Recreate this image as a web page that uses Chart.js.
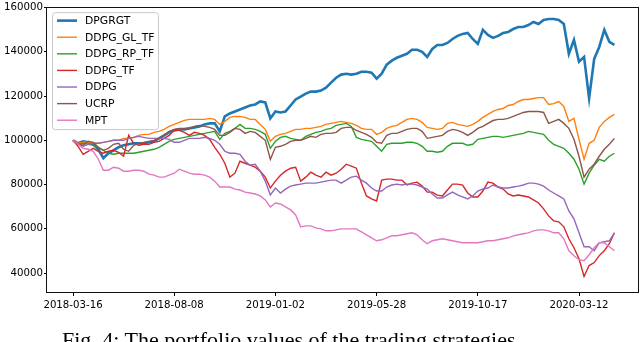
<!DOCTYPE html>
<html>
<head>
<meta charset="utf-8">
<script src="https://cdn.jsdelivr.net/npm/chart.js@4.4.0/dist/chart.umd.min.js"></script>
<style>
html, body { margin: 0; padding: 0; background: #fff; overflow: hidden; }
#wrap { position: relative; width: 640px; height: 342px; overflow: hidden; }
#caption { position: absolute; left: 62px; top: 327px; font-family: "Liberation Serif", serif; font-size: 22px; white-space: nowrap; color: #000; }
</style>
</head>
<body>
<div id="wrap">
  <canvas id="portfolioChart" width="640" height="342"></canvas>
  <div id="caption">Fig. 4: The portfolio values of the trading strategies</div>
</div>
<script>
// trading day index of each sample (every 5th trading day from 2018-03-16)
const days = [
  0, 5, 10, 15, 20, 25, 30, 35, 40, 45, 50, 55, 60, 65, 70, 75, 80, 85, 90, 95,
  100, 105, 110, 115, 120, 125, 130, 135, 140, 145, 150, 155, 160, 165, 170, 175, 180, 185, 190, 195,
  200, 205, 210, 215, 220, 225, 230, 235, 240, 245, 250, 255, 260, 265, 270, 275, 280, 285, 290, 295,
  300, 305, 310, 315, 320, 325, 330, 335, 340, 345, 350, 355, 360, 365, 370, 375, 380, 385, 390, 395,
  400, 405, 410, 415, 420, 425, 430, 435, 440, 445, 450, 455, 460, 465, 470, 475, 480, 485, 490, 495,
  500, 505, 510, 515, 520, 525, 530, 535
];

// tick positions (trading day index) and their date labels
const tickDays = [0, 100, 200, 300, 400, 500];
const tickLabels = ['2018-03-16', '2018-08-08', '2019-01-02', '2019-05-28', '2019-10-17', '2020-03-12'];
const yTicks = [40000, 60000, 80000, 100000, 120000, 140000, 160000];

const seriesNames = ['DPGRGT', 'DDPG_GL_TF', 'DDPG_RP_TF', 'DDPG_TF', 'DDPG', 'UCRP', 'MPT'];

// portfolio values
const dpgrgt = [
  100000, 98650, 99550, 99100, 98200, 95950, 91900, 94150, 95500, 96850,
  97750, 98200, 98650, 98650, 98650, 99100, 99550, 100900, 102250, 103600,
  104500, 104950, 104950, 105400, 105850, 106300, 107200, 107650, 107650, 104050,
  110800, 112150, 113050, 113950, 114850, 115750, 116200, 117550, 117100, 109900,
  113050, 112600, 113050, 115750, 118450, 119800, 121100, 122000, 122000, 122500,
  123800, 126100, 128300, 129700, 130100, 129700, 130100, 131000, 131000, 130600,
  127900, 130100, 134200, 136000, 137300, 138200, 139100, 140900, 140900, 140000,
  137700, 141300, 143100, 143100, 144000, 145800, 147200, 148100, 148500, 145800,
  143600, 149900, 147600, 146300, 147200, 148500, 149000, 150300, 151200, 151200,
  152100, 153500, 152600, 154400, 154800, 154800, 154400, 152600, 139100, 145400,
  135500, 137700, 119000, 136800, 142200, 149900, 144500, 143100
];
const ddpgGlTf = [
  100000, 98650, 99100, 99100, 98650, 98650, 99100, 99550, 100000, 100000,
  100900, 100900, 101350, 102250, 102700, 102700, 103600, 104050, 104950, 106300,
  107200, 108100, 109000, 109450, 109450, 109450, 109450, 109900, 109450, 107200,
  108550, 110350, 110800, 110800, 110350, 109450, 109450, 107200, 104950, 99550,
  101800, 102700, 103150, 104050, 104950, 104950, 105400, 105400, 105850, 106300,
  107200, 107650, 108100, 108550, 108100, 107650, 106750, 105400, 104950, 104950,
  102700, 103600, 105400, 106300, 106750, 108100, 109450, 109900, 109450, 108100,
  105850, 105400, 104950, 105400, 107650, 108100, 107200, 106750, 106300, 107200,
  108550, 110350, 111700, 113050, 113950, 114400, 115750, 116200, 117550, 118450,
  118450, 118900, 119300, 119300, 116200, 116600, 117550, 115300, 108550, 109900,
  100450, 91450, 98650, 100000, 105850, 108550, 110350, 111700
];
const ddpgRpTf = [
  100000, 98200, 98650, 98200, 97750, 96850, 95500, 94150, 93700, 94150,
  94150, 94150, 94150, 94600, 95050, 95500, 95950, 96850, 98200, 99550,
  100450, 100900, 101350, 101800, 102250, 102700, 103150, 103600, 104050, 100450,
  103150, 104050, 105400, 107200, 105400, 105400, 104950, 104050, 102700, 96400,
  99550, 101350, 101800, 100900, 100450, 100000, 101800, 102700, 103600, 104050,
  104950, 105400, 106750, 107200, 107650, 106300, 101350, 100450, 100000, 99550,
  97300, 95050, 98200, 98650, 98650, 98650, 99100, 99100, 98650, 97300,
  95050, 95050, 94600, 95050, 97300, 98650, 98650, 98650, 97750, 98200,
  100450, 100900, 101350, 101800, 101800, 101350, 101800, 102250, 102700, 103150,
  104050, 103600, 103150, 102700, 100000, 98200, 97300, 96400, 94150, 91450,
  86950, 80200, 85150, 88750, 91450, 90550, 92800, 94150
];
const ddpgTf = [
  100000, 97300, 93700, 95050, 96400, 95050, 94150, 95050, 95500, 94600,
  92800, 102250, 98650, 97750, 98200, 98200, 99100, 99550, 100900, 102250,
  104500, 104500, 103600, 102250, 103600, 103150, 102250, 100450, 96850, 93700,
  89650, 83350, 85150, 90550, 89650, 88750, 87850, 86050, 83350, 78450,
  81550, 84250, 86050, 87400, 87850, 81550, 83350, 85600, 84250, 83350,
  85600, 84250, 85150, 86950, 89200, 88300, 87400, 80650, 74850, 73500,
  72600, 82000, 82450, 82450, 82000, 82000, 79800, 80650, 81100, 79300,
  76600, 76600, 75250, 74850, 77550, 80200, 80200, 79800, 76200, 74400,
  74400, 77100, 81100, 80650, 78900, 78000, 75750, 74850, 75300, 74850,
  74400, 73050, 71700, 69000, 65850, 63600, 63150, 60900, 55500, 51450,
  46500, 38450, 43400, 44750, 47900, 50100, 53250, 58200
];
const ddpg = [
  100000, 98650, 97300, 98200, 98650, 98650, 99100, 99550, 100000, 100000,
  100000, 100900, 101350, 101800, 101350, 100900, 100900, 100900, 100900, 100450,
  99100, 99100, 100000, 100900, 100900, 100900, 101350, 100900, 100000, 98200,
  95050, 94150, 94150, 93700, 90550, 88750, 89200, 86050, 81550, 75300,
  78450, 76200, 77950, 79300, 79800, 80200, 80650, 80650, 80650, 81100,
  81550, 82000, 82000, 80650, 82000, 83350, 83800, 82000, 80650, 78450,
  77100, 77100, 78900, 79800, 80200, 79800, 80200, 80200, 79800, 78900,
  78000, 75750, 73950, 73950, 75300, 76600, 75300, 74400, 73500, 74850,
  77100, 78000, 78450, 79800, 78900, 78450, 78450, 78900, 79300, 79800,
  80650, 80650, 80200, 79300, 77550, 76200, 74850, 73500, 68100, 64500,
  58200, 51900, 51900, 50100, 53700, 54150, 54600, 58200
];
const ucrp = [
  100000, 98200, 97750, 99550, 99100, 96850, 95500, 96400, 98200, 98650,
  95950, 95050, 97750, 98650, 99100, 99550, 100000, 100900, 102250, 104050,
  104950, 105400, 105400, 105400, 106300, 106750, 106300, 105850, 104950, 102250,
  102250, 103600, 105400, 104950, 103150, 104050, 103600, 101800, 100000, 91450,
  96850, 97300, 98200, 99550, 100000, 100000, 100900, 101800, 101350, 102700,
  103150, 103150, 103600, 105400, 105850, 105850, 104500, 103600, 102700, 101350,
  99100, 98650, 102250, 103150, 103150, 104050, 104950, 105400, 105400, 104050,
  100900, 101350, 101800, 102250, 104050, 104950, 104500, 103600, 102250, 103600,
  105400, 106300, 107650, 108950, 109450, 109450, 109900, 110800, 111700, 112600,
  113050, 113050, 113050, 112600, 107650, 108550, 109450, 107650, 105400, 100450,
  92800, 83350, 86950, 89200, 92800, 95950, 98200, 100900
];
const mpt = [
  100000, 98200, 96400, 95950, 95050, 91450, 86500, 86500, 87850, 87400,
  86050, 86050, 86500, 86500, 86050, 84700, 84250, 83350, 83350, 84250,
  85150, 86950, 86050, 85150, 84700, 84700, 84250, 83350, 81550, 78900,
  78900, 78900, 77950, 77550, 76600, 76200, 75750, 74850, 73050, 69900,
  71700, 71250, 69900, 68550, 66300, 60900, 61350, 61350, 60450, 60000,
  59100, 59100, 59550, 60000, 60000, 60000, 60000, 58650, 57300, 55950,
  54600, 55050, 55950, 56850, 56850, 57300, 57750, 58200, 57300, 55050,
  53250, 54600, 55050, 55500, 55050, 54600, 54150, 53700, 53700, 53700,
  53700, 54150, 54600, 54600, 55050, 55500, 55950, 56850, 57300, 57750,
  58200, 59100, 59550, 59550, 59100, 58200, 58200, 55500, 50100, 47850,
  46050, 45600, 48300, 51450, 53700, 53700, 51900, 50100
];

const seriesValues = [dpgrgt, ddpgGlTf, ddpgRpTf, ddpgTf, ddpg, ucrp, mpt];
const seriesColors = ['#1f77b4', '#ff7f0e', '#2ca02c', '#d62728', '#9467bd', '#8c564b', '#e377c2'];
const seriesWidths = [2.6, 1.4, 1.4, 1.4, 1.4, 1.4, 1.4];

const datasets = seriesNames.map((name, i) => ({
  label: name,
  data: days.map((d, j) => ({ x: d, y: seriesValues[i][j] })),
  borderColor: seriesColors[i],
  backgroundColor: seriesColors[i],
  borderWidth: seriesWidths[i],
  pointRadius: 0,
  tension: 0,
  fill: false,
  order: seriesNames.length - i   // later series on top, like matplotlib
}));

// box round the plot + legend in the upper left corner
const frameAndLegend = {
  id: 'frameAndLegend',
  afterDraw(chart) {
    const ctx = chart.ctx;
    const a = chart.chartArea;
    ctx.save();
    ctx.strokeStyle = '#111';
    ctx.lineWidth = 1;
    ctx.strokeRect(Math.round(a.left) - 0.5, Math.round(a.top) + 0.5,
                   Math.round(a.right - a.left) + 1, Math.round(a.bottom - a.top) - 1);

    const bx = a.left + 5, by = a.top + 5, bw = 106, bh = 117;
    ctx.beginPath();
    ctx.roundRect(bx + 0.5, by + 0.5, bw, bh, 3);
    ctx.fillStyle = 'rgba(255,255,255,0.85)';
    ctx.fill();
    ctx.strokeStyle = '#c8c8c8';
    ctx.stroke();

    ctx.font = '10.8px "DejaVu Sans"';
    ctx.textBaseline = 'middle';
    chart.data.datasets.forEach((ds, i) => {
      const y = by + 8.5 + i * 16.6;
      ctx.beginPath();
      ctx.strokeStyle = ds.borderColor;
      ctx.lineWidth = ds.borderWidth;
      ctx.moveTo(bx + 5, y);
      ctx.lineTo(bx + 25, y);
      ctx.stroke();
      ctx.fillStyle = '#000';
      ctx.fillText(ds.label, bx + 33, y + 0.5);
    });
    ctx.restore();
  }
};

const tickFont = { family: 'DejaVu Sans', size: 10.2 };

const config = {
  type: 'line',
  data: { datasets: datasets },
  options: {
    responsive: false,
    animation: false,
    events: [],
    layout: { padding: { top: 5, right: 2, left: 0, bottom: 0 } },
    plugins: { legend: { display: false }, tooltip: { enabled: false } },
    scales: {
      x: {
        type: 'linear',
        min: -25.7,
        max: 558.3,
        afterBuildTicks: s => { s.ticks = tickDays.map(v => ({ value: v })); },
        afterFit: s => { s.height = 49; },
        ticks: {
          callback: (v, i) => tickLabels[i],
          font: tickFont, color: '#000', maxRotation: 0, autoSkip: false, padding: 3
        },
        grid: { drawOnChartArea: false, drawTicks: true, tickLength: 3, color: '#000' },
        border: { display: false }
      },
      y: {
        min: 31000,
        max: 160200,
        afterBuildTicks: s => { s.ticks = yTicks.map(v => ({ value: v })); },
        afterFit: s => { s.width = 47; },
        ticks: {
          callback: v => String(v),
          font: tickFont, color: '#000', padding: 1
        },
        grid: { drawOnChartArea: false, drawTicks: true, tickLength: 3, color: '#000' },
        border: { display: false }
      }
    }
  },
  plugins: [frameAndLegend]
};

const ctx = document.getElementById('portfolioChart').getContext('2d');
const portfolioChart = new Chart(ctx, config);
</script>
</body>
</html>
